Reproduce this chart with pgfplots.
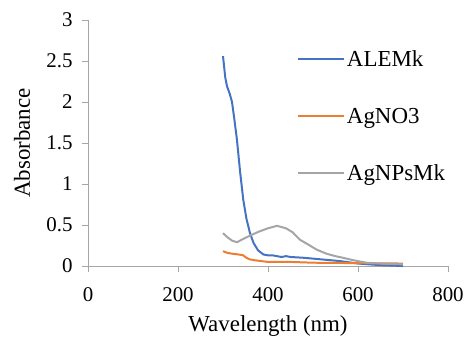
\documentclass[border=0pt]{standalone}
\usepackage{fontspec}
\setmainfont{Liberation Serif}
\newfontfamily\tnr{Liberation Serif}
\usepackage{pgfplots}
\pgfplotsset{compat=1.18}
\definecolor{cblue}{HTML}{4472C4}
\definecolor{corange}{HTML}{ED7D31}
\definecolor{cgray}{HTML}{A5A5A5}
\definecolor{axgray}{HTML}{A6A6A6}
\begin{document}
\begin{tikzpicture}
\path[use as bounding box] (-88bp,-72bp) rectangle (379bp,266bp);
\begin{axis}[
  scale only axis,
  width=360bp, height=246bp,
  xmin=0, xmax=800, ymin=0, ymax=3,
  axis x line=bottom, axis y line=left,
  axis line style={draw=axgray, line width=0.6pt, -},
  xtick={0,200,400,600,800},
  xticklabels={0,200,400,600,800},
  ytick={0,0.5,1,1.5,2,2.5,3},
  yticklabels={0,0.5,1,1.5,2,2.5,3},
  tick align=outside,
  major tick length=6bp,
  tick style={draw=axgray, line width=0.6pt},
  xticklabel style={font=\tnr\fontsize{21}{23}\selectfont, text=black, yshift=-12bp},
  yticklabel style={font=\tnr\fontsize{21}{23}\selectfont, text=black, xshift=-6bp},
  xlabel={Wavelength (nm)},
  ylabel={Absorbance},
  label style={font=\tnr\fontsize{23}{25}\selectfont},
  xlabel style={at={(axis description cs:0.5,0)}, anchor=base, yshift=-65bp},
  ylabel style={at={(axis description cs:-0.183,0.5)}, anchor=center},
  legend style={draw=none, fill=none, at={(0.58,0.885)}, anchor=north west,
    font=\tnr\fontsize{23}{25}\selectfont, row sep=36bp, inner sep=0pt,
    /tikz/every even column/.append style={column sep=2bp}},
  legend cell align=left,
  legend image code/.code={\draw[#1, line width=2pt] (0bp,0bp) -- (46bp,0bp);},
]
\addplot[cblue, line width=2pt] coordinates {
(300,2.56) (305,2.30) (309,2.19) (315,2.10) (320,2.00) (325,1.80) (331,1.54)
(338,1.15) (345,0.81) (352,0.58) (360,0.40) (368,0.28) (378,0.19) (390,0.14)
(400,0.13) (410,0.13) (420,0.12) (430,0.11) (440,0.12) (450,0.11) (480,0.10)
(520,0.08) (560,0.06) (600,0.03) (650,0.01) (700,0.0)};
\addlegendentry{ALEMk}
\addplot[corange, line width=2pt] coordinates {
(300,0.18) (310,0.16) (320,0.15) (335,0.14) (345,0.13) (352,0.10) (360,0.08)
(371,0.07) (385,0.06) (400,0.05) (450,0.05) (500,0.04) (600,0.035) (700,0.03)};
\addlegendentry{AgNO3}
\addplot[cgray, line width=2pt] coordinates {
(300,0.40) (310,0.35) (320,0.31) (331,0.29) (345,0.33) (360,0.37) (380,0.42)
(400,0.46) (420,0.49) (440,0.46) (455,0.41) (471,0.32) (490,0.26) (508,0.20)
(530,0.15) (550,0.12) (567,0.10) (590,0.07) (619,0.04) (650,0.03) (700,0.02)};
\addlegendentry{AgNPsMk}
\end{axis}
\end{tikzpicture}
\end{document}
